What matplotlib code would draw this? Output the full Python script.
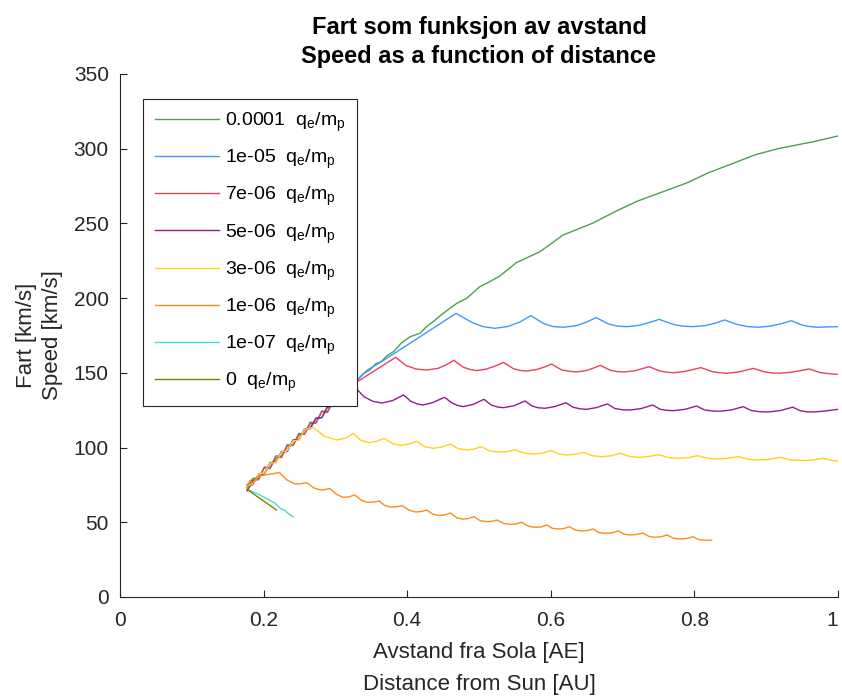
import matplotlib
matplotlib.use('Agg')
import matplotlib.pyplot as plt

plt.rcParams['font.family'] = ['Liberation Sans', 'DejaVu Sans']

# ---------------------------------------------------------------#
# Data (distance in AU, speed in km/s)
# ---------------------------------------------------------------#
labels = ['0.0001', '1e-05', '7e-06', '5e-06', '3e-06', '1e-06', '1e-07', '0']

climb_x = [0.177, 0.185, 0.193, 0.201, 0.209, 0.217, 0.225, 0.233, 0.241, 0.249,
           0.257, 0.265, 0.273, 0.281, 0.289, 0.297, 0.305, 0.313, 0.321]

# 0.0001
green_x = climb_x + [0.33, 0.339, 0.348, 0.356, 0.364, 0.372, 0.381, 0.392, 0.404, 0.418,
                     0.427, 0.436, 0.45, 0.469, 0.483, 0.501, 0.515, 0.529, 0.552, 0.585,
                     0.617, 0.659, 0.69, 0.72, 0.755, 0.789, 0.82, 0.854, 0.885, 0.919,
                     0.966, 1.0]
green_y = [73, 79.5, 79.0, 87.0, 86.5, 94.5, 94.0, 102.0, 101.5, 109.5, 109.0, 117.0,
           116.5, 124.5, 124.0, 132.0, 131.5, 139.5, 139.0,
           145, 149.5, 151.9, 156, 157.5, 161.5, 164.2, 170, 174.2, 176.5,
           181, 184.2, 189.8, 196.5, 199.9, 207.6, 211, 214.8, 223.7, 231.1,
           242.2, 250.3, 258, 264.8, 271, 277, 284, 290.2, 296, 300.3,
           304.7, 308.5]

# 1e-05
blue_x = climb_x + [0.33, 0.345, 0.366, 0.468, 0.49, 0.505, 0.522, 0.54, 0.557, 0.572,
                    0.59, 0.603, 0.617, 0.635, 0.65, 0.663, 0.68, 0.692, 0.706, 0.723,
                    0.738, 0.751, 0.77, 0.783, 0.798, 0.815, 0.83, 0.842, 0.86, 0.874,
                    0.889, 0.906, 0.922, 0.935, 0.95, 0.96, 0.97, 0.985, 1.0]
blue_y = [74, 75.0, 82.5, 82.5, 90.0, 90.0, 97.5, 97.5, 105.0, 105.0, 112.5, 112.5,
          120.0, 120.0, 127.5, 127.5, 135.0, 135.0, 142.5,
          145, 152, 158, 189.8, 183.8, 181.0, 179.8, 181.0, 184.0, 188.3,
          183.0, 181.0, 180.5, 181.5, 184.0, 187.0, 182.8, 181.3, 180.9, 181.8,
          183.8, 185.8, 182.5, 181.3, 180.9, 181.6, 183.4, 185.4, 182.3, 181.0,
          180.5, 181.3, 183.0, 184.9, 182.0, 181.0, 180.5, 180.7, 180.9]

# 7e-06
red_x = climb_x + [0.327, 0.384, 0.398, 0.412, 0.427, 0.443, 0.455, 0.465, 0.478, 0.488,
                   0.497, 0.51, 0.523, 0.534, 0.548, 0.557, 0.566, 0.58, 0.592, 0.601,
                   0.615, 0.626, 0.636, 0.65, 0.66, 0.669, 0.683, 0.693, 0.703, 0.717,
                   0.728, 0.737, 0.752, 0.762, 0.771, 0.786, 0.798, 0.809, 0.825, 0.836,
                   0.845, 0.861, 0.872, 0.882, 0.898, 0.909, 0.919, 0.935, 0.948, 0.96,
                   0.975, 0.988, 1.0]
red_y = [75, 78.0, 78.5, 86.5, 86.0, 93.0, 93.5, 101.0, 101.5, 108.5, 109.0, 116.0,
         116.5, 124.0, 123.5, 131.0, 131.5, 138.5, 138.0,
         143, 160.4, 155.0, 152.6, 151.9, 153.0, 155.5, 158.4, 153.8, 152.2,
         151.5, 152.5, 154.6, 157.0, 152.8, 151.6, 151.2, 152.2, 154.0, 155.9,
         152.0, 151.0, 150.6, 151.6, 153.3, 155.0, 151.7, 150.8, 150.6, 151.4,
         152.9, 154.1, 151.2, 150.4, 150.1, 150.9, 152.2, 153.5, 150.8, 150.0,
         149.7, 150.5, 151.8, 153.0, 150.6, 149.9, 149.7, 150.4, 151.5, 152.6,
         150.2, 149.4, 149.0]

# 5e-06
purple_x = climb_x + [0.327, 0.34, 0.352, 0.365, 0.38, 0.395, 0.405, 0.414, 0.422, 0.435,
                      0.452, 0.462, 0.47, 0.478, 0.492, 0.507, 0.517, 0.526, 0.534, 0.549,
                      0.564, 0.574, 0.583, 0.592, 0.606, 0.621, 0.631, 0.641, 0.65, 0.664,
                      0.679, 0.689, 0.7, 0.71, 0.726, 0.742, 0.752, 0.762, 0.771, 0.787,
                      0.803, 0.814, 0.825, 0.836, 0.852, 0.868, 0.879, 0.891, 0.903, 0.92,
                      0.937, 0.948, 0.957, 0.966, 0.983, 1.0]
purple_y = [71, 77.5, 81.5, 82.5, 89.5, 90.5, 97.0, 97.5, 105.0, 105.5, 112.0, 113.0,
            119.5, 120.0, 127.0, 128.0, 134.5, 135.0, 142.0,
            140.5, 134.0, 131.0, 129.8, 131.5, 135.2, 131.0, 129.2, 128.5, 130.0,
            133.6, 130.0, 128.2, 127.4, 128.9, 132.3, 128.5, 127.1, 126.7, 128.0,
            131.2, 127.8, 126.6, 126.3, 127.5, 130.0, 127.0, 125.9, 125.6, 126.8,
            129.2, 126.2, 125.3, 125.1, 126.1, 128.5, 125.7, 124.9, 124.7, 125.6,
            127.8, 125.2, 124.5, 124.3, 125.2, 127.4, 124.8, 124.0, 123.8, 124.8,
            127.0, 124.6, 123.9, 123.8, 124.5, 125.6]

# 3e-06
yellow_x = climb_x[:12] + [0.269, 0.285, 0.302, 0.315, 0.325, 0.335, 0.346, 0.358, 0.368,
                           0.38, 0.392, 0.403, 0.413, 0.425, 0.437, 0.449, 0.46, 0.471,
                           0.483, 0.493, 0.503, 0.515, 0.527, 0.539, 0.55, 0.563, 0.576,
                           0.589, 0.6, 0.611, 0.622, 0.634, 0.646, 0.658, 0.671, 0.684,
                           0.697, 0.71, 0.724, 0.737, 0.75, 0.764, 0.778, 0.792, 0.805,
                           0.818, 0.831, 0.846, 0.861, 0.875, 0.889, 0.904, 0.919, 0.934,
                           0.949, 0.965, 0.98, 0.99, 1.0]
yellow_y = [74, 76.0, 82.0, 83.0, 89.5, 90.0, 97.0, 98.0, 104.5, 105.0, 112.0, 113.0,
            113.5, 107.5, 105.1, 106.5, 109.5, 105.0, 103.3, 104.2, 106.2,
            102.6, 101.5, 102.4, 104.2, 100.5, 99.5, 100.5, 102.3, 99.3,
            98.4, 99.0, 100.6, 97.8, 97.0, 97.3, 98.4, 96.3, 95.7,
            96.3, 98.0, 95.8, 95.0, 95.5, 96.8, 94.5, 93.9, 94.5,
            96.2, 94.0, 93.5, 94.0, 95.3, 93.3, 92.8, 93.3, 94.6,
            92.8, 92.4, 92.8, 93.9, 92.2, 91.7, 92.1, 93.5, 91.7,
            91.3, 91.7, 92.8, 91.5, 91.0]

# 1e-06
orange_x = [0.177, 0.181, 0.186, 0.19, 0.195, 0.222, 0.232, 0.244, 0.252, 0.26, 0.27, 0.279,
            0.286, 0.292, 0.302, 0.311, 0.319, 0.327, 0.336, 0.344, 0.353, 0.361, 0.369,
            0.377, 0.385, 0.393, 0.403, 0.412, 0.42, 0.427, 0.436, 0.444, 0.452, 0.46,
            0.469, 0.477, 0.485, 0.493, 0.502, 0.511, 0.518, 0.525, 0.535, 0.545, 0.552,
            0.559, 0.57, 0.58, 0.587, 0.594, 0.602, 0.61, 0.618, 0.626, 0.635, 0.643,
            0.651, 0.659, 0.667, 0.675, 0.685, 0.694, 0.702, 0.71, 0.719, 0.728, 0.737,
            0.745, 0.754, 0.762, 0.771, 0.78, 0.789, 0.798, 0.804, 0.81, 0.817, 0.824]
orange_y = [73, 78, 76, 80, 81, 83.3, 78.5, 75.6, 75.8, 76.5, 73, 71.6,
            71.9, 72.7, 68.5, 66.7, 67, 68.3, 64.8, 63.4, 63.5, 64.2, 61.2,
            60.2, 60.4, 61.1, 58, 56.9, 57.2, 58.2, 55.4, 54.5, 54.9, 56.2,
            53, 52.1, 52.5, 53.8, 51, 50.4, 50.6, 51.5, 49.1, 48.6, 48.9,
            50, 47.2, 46.6, 46.9, 48.2, 46, 45.5, 45.8, 47, 44.7, 44.2,
            44.5, 45.5, 43.1, 42.6, 42.9, 44.2, 42, 41.5, 41.8, 42.8, 40.5,
            40, 40.3, 41.5, 39.3, 38.8, 39.1, 40.4, 38.8, 38.1, 38, 38.1]

# 1e-07
cyan_x = [0.177, 0.19, 0.204, 0.216, 0.223, 0.23, 0.234, 0.241]
cyan_y = [72, 69.4, 66, 62.7, 59.4, 57.8, 56, 53.7]

# 0
olive_x = [0.177, 0.218]
olive_y = [72, 58.2]

series = [(green_x, green_y), (blue_x, blue_y), (red_x, red_y), (purple_x, purple_y),
          (yellow_x, yellow_y), (orange_x, orange_y), (cyan_x, cyan_y), (olive_x, olive_y)]
colors = ['#4e9f4e', '#3d9bff', '#e8435c', '#8e1f8e', '#ffd21a', '#ff8c1a', '#40e0d0', '#808000']

# ---------------------------------------------------------------#
# Plot
# ---------------------------------------------------------------#
fig = plt.figure(figsize=(8.42, 6.98), dpi=100)
ax = fig.add_axes([0.1425, 0.1447, 0.8527, 0.7493])

for (xs, ys), c, lab in zip(series, colors, labels):
    ax.plot(xs, ys, color=c, lw=1.0, label=lab + r'  q$_\mathregular{e}$/m$_\mathregular{p}$')

ax.set_xlim(0, 1)
ax.set_ylim(0, 350)
ax.set_xticks([0, 0.2, 0.4, 0.6, 0.8, 1])
ax.set_xticklabels(['0', '0.2', '0.4', '0.6', '0.8', '1'])
ax.set_yticks(range(0, 351, 50))

for s in ['top', 'right']:
    ax.spines[s].set_visible(False)
for s in ['left', 'bottom']:
    ax.spines[s].set_color('#262626')
    ax.spines[s].set_linewidth(0.8)
ax.tick_params(direction='in', length=5, width=0.8, colors='#262626',
               labelsize=15, pad=8)
ax.tick_params(axis='x', pad=10)
ax.get_xticklabels()[-1].set_horizontalalignment('right')

ax.set_title('Fart som funksjon av avstand\nSpeed as a function of distance',
             fontsize=17, fontweight='bold', linespacing=1.35, pad=8)
ax.set_xlabel('Avstand fra Sola [AE]\nDistance from Sun [AU]', fontsize=16,
              color='#262626', linespacing=1.65, labelpad=9)
ax.set_ylabel('Fart [km/s]\nSpeed [km/s]', fontsize=16, color='#262626',
              linespacing=1.3, labelpad=8)

leg = ax.legend(loc='upper left', bbox_to_anchor=(0.032, 0.952), borderaxespad=0,
                fontsize=14, handlelength=3.3, labelspacing=0.7, fancybox=False,
                framealpha=1, edgecolor='#262626', borderpad=0.6, handletextpad=0.3)
leg.get_frame().set_linewidth(0.8)

plt.savefig('out.png', dpi=100)
